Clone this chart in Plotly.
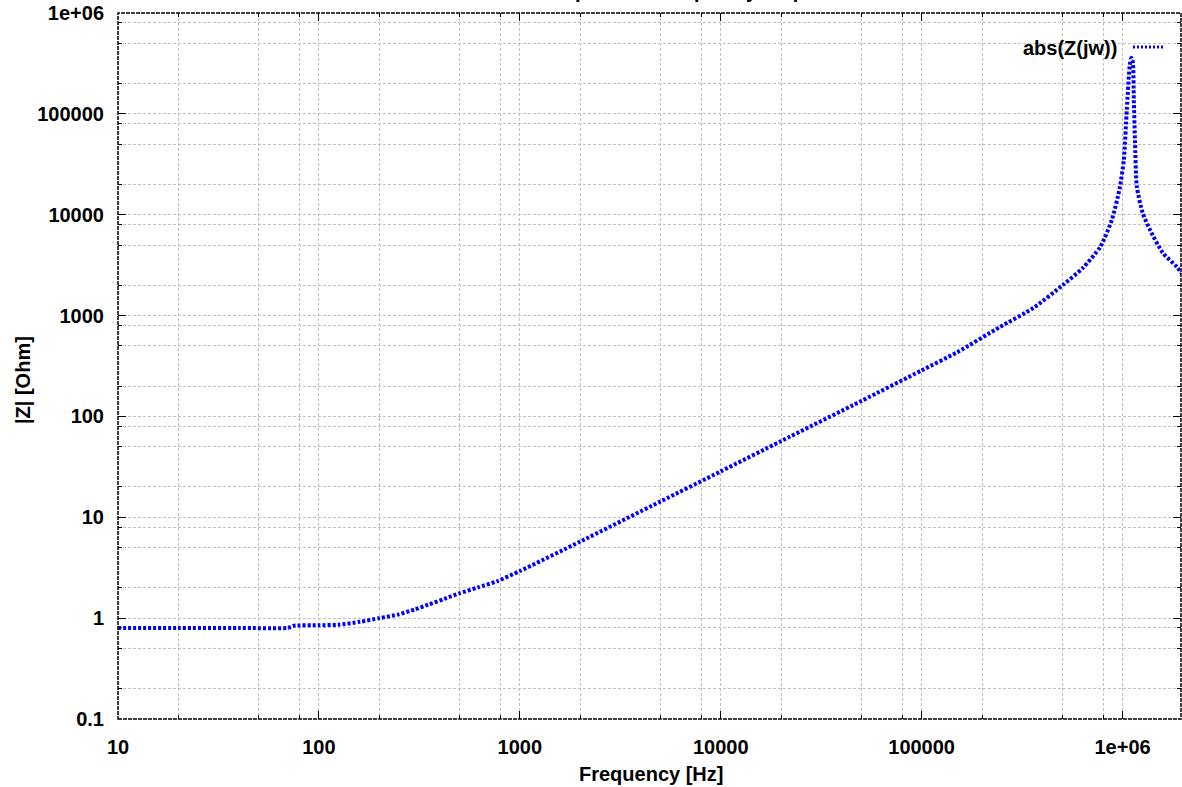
import plotly.graph_objects as go

# ---- data ----
freq_hz = [10, 20, 40, 70, 75, 100, 125, 160, 200, 250, 300, 350, 420, 500,
           620, 770, 1000, 2000, 5000, 10000, 20000, 50000, 100000, 150000,
           245000, 360000, 505000, 635000, 775000, 885000, 969000, 1015000,
           1050000, 1087000, 1106000, 1125000, 1138000, 1153000, 1178000,
           1260000, 1370000, 1585000, 1862000, 2000000]
z_ohm = [0.80, 0.80, 0.80, 0.80, 0.84, 0.85, 0.86, 0.92, 1.0, 1.09, 1.22, 1.36,
         1.55, 1.76, 2.02, 2.32, 2.93, 5.75, 14.3, 28.5, 57, 142, 286, 432,
         770, 1190, 2010, 2970, 4800, 8900, 18500, 35000, 110000, 307000,
         360000, 329000, 138000, 55000, 18900, 10400, 7080, 4190, 3040, 2520]

x_major = [10, 100, 1000, 10000, 100000, 1000000]
x_major_text = ["10", "100", "1000", "10000", "100000", "1e+06"]
y_major = [0.1, 1, 10, 100, 1000, 10000, 100000, 1000000]
y_major_text = ["0.1", "1", "10", "100", "1000", "10000", "100000", "1e+06"]
minor_mult = [2, 5, 8]

series_name = "abs(Z(jw))"
title_text = "Inductor impedance frequency response"
x_title = "Frequency [Hz]"
y_title = "|Z| [Ohm]"

x_minor = [m * d for d in [10, 100, 1000, 10000, 100000, 1000000] for m in minor_mult]
y_minor = [m * d for d in [0.1, 1, 10, 100, 1000, 10000, 100000] for m in minor_mult] + [8e5]

FONT = "Liberation Sans, Arial, Helvetica, sans-serif"
W, H = 1182, 787
L, R, T, B = 118, 1, 13, 68
PW, PH = W - L - R, H - T - B


def px(xp):
    return (xp - L) / PW


def py(yp):
    return 1 - (yp - T) / PH


BLUE = "#0000ff"
GRID = "#c0c0c0"

fig = go.Figure()
fig.add_trace(go.Scatter(
    x=freq_hz, y=z_ohm, mode="lines", name=series_name, showlegend=False,
    line=dict(color=BLUE, width=4, dash="3px,2px", shape="spline", smoothing=0.6),
    hoverinfo="skip",
))

axis_common = dict(
    type="log", showline=False, zeroline=False, automargin=False,
    ticks="inside", ticklen=8, tickwidth=1, tickcolor="black", mirror="ticks",
    showgrid=True, gridcolor=GRID, gridwidth=1, griddash="3px,2px",
    tickfont=dict(family=FONT, size=20, color="black", weight="bold"),
    tickmode="array",
)

fig.update_xaxes(
    **axis_common,
    range=[1, 6.291],
    tickvals=x_major, ticktext=x_major_text,
    ticklabelstandoff=14,
    minor=dict(tickmode="array", tickvals=x_minor, ticks="inside", ticklen=4,
               tickcolor="black", showgrid=True, gridcolor=GRID,
               griddash="3px,2px", gridwidth=1),
)
fig.update_yaxes(
    **axis_common,
    range=[-1, 6],
    tickvals=y_major, ticktext=y_major_text,
    ticklabelstandoff=13,
    minor=dict(tickmode="array", tickvals=y_minor, ticks="inside", ticklen=4,
               tickcolor="black", showgrid=True, gridcolor=GRID,
               griddash="3px,2px", gridwidth=1),
)

shapes = [
    dict(type="rect", xref="paper", yref="paper", x0=0, x1=1, y0=0, y1=1,
         line=dict(color="black", width=1.5, dash="4px,1px"), layer="above"),
    dict(type="line", xref="paper", yref="paper", x0=px(1133), x1=px(1163),
         y0=py(47), y1=py(47), line=dict(color=BLUE, width=3, dash="2px,2px")),
]

annotations = [
    dict(text=series_name, xref="paper", yref="paper", x=px(1119), y=py(48),
         xanchor="right", yanchor="middle", showarrow=False,
         font=dict(family=FONT, size=20, color="black", weight="bold")),
    dict(text=x_title, xref="paper", yref="paper", x=px(651), y=py(774),
         xanchor="center", yanchor="middle", showarrow=False,
         font=dict(family=FONT, size=20, color="black", weight="bold")),
    dict(text=y_title, xref="paper", yref="paper", x=px(23), y=py(380),
         xanchor="center", yanchor="middle", textangle=-90, showarrow=False,
         font=dict(family=FONT, size=20, color="black", weight="bold")),
    dict(text=title_text, xref="paper", yref="paper", x=px(659), y=py(4),
         xanchor="center", yanchor="bottom", showarrow=False,
         font=dict(family=FONT, size=20, color="black", weight="bold")),
]

fig.update_layout(
    width=W, height=H,
    margin=dict(l=L, r=R, t=T, b=B, autoexpand=False),
    paper_bgcolor="white", plot_bgcolor="white",
    shapes=shapes, annotations=annotations,
    font=dict(family=FONT, size=20, color="black"),
    hovermode=False,
)

fig.write_html(
    "out.html",
    config={"displayModeBar": False, "staticPlot": True},
    post_script="document.body.style.margin='0px';document.body.style.overflow='hidden';",
)
